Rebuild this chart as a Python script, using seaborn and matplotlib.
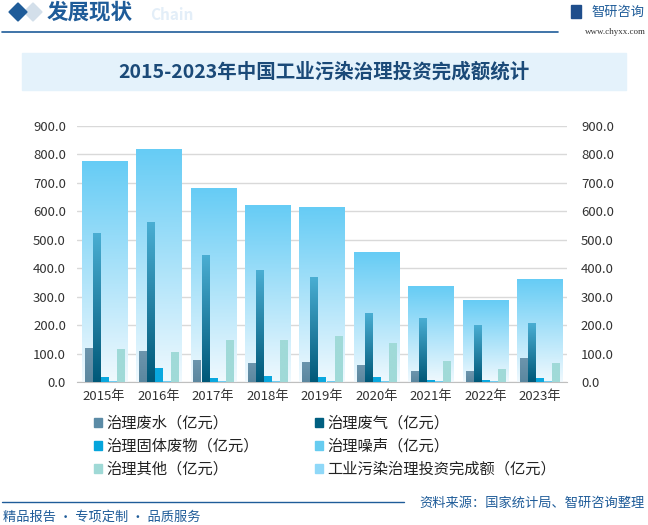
import numpy as np
import pandas as pd
import matplotlib
matplotlib.use("Agg")
import matplotlib.pyplot as plt
from matplotlib.patches import Patch, Polygon, Rectangle
from matplotlib.colors import to_rgb
import seaborn as sb

#---------------------- datos ------------------------
years = ["2015年", "2016年", "2017年", "2018年", "2019年", "2020年", "2021年", "2022年", "2023年"]
total = [773.7, 819.0, 681.5, 621.3, 615.2, 454.3, 335.2, 285.0, 362.0]
water = [118.4, 108.2, 76.4, 64.0, 69.9, 57.4, 36.0, 36.0, 82.0]
gas = [521.8, 561.5, 446.3, 393.1, 367.7, 242.4, 222.0, 198.0, 205.0]
solid = [16.1, 46.7, 12.7, 18.4, 17.0, 17.3, 5.0, 5.0, 12.0]
noise = [3.0, 3.0, 3.0, 3.0, 3.0, 3.0, 3.0, 3.0, 3.0]
other = [114.5, 102.0, 144.9, 144.3, 159.2, 134.0, 71.0, 43.0, 64.0]

series_names = ["治理废水（亿元）", "治理废气（亿元）", "治理固体废物（亿元）", "治理噪声（亿元）", "治理其他（亿元）"]
total_name = "工业污染治理投资完成额（亿元）"
yticks = [0, 100, 200, 300, 400, 500, 600, 700, 800, 900]

# colores (arriba, abajo) de cada serie
grad = {
    series_names[0]: ("#6C95AD", "#5B879F"),
    series_names[1]: ("#4AAED3", "#005878"),
    series_names[2]: ("#0AA8DF", "#0AA8DF"),
    series_names[3]: ("#6FCDF2", "#6FCDF2"),
    series_names[4]: ("#A0DAD8", "#A0DAD8"),
}
total_grad = ("#66CCF5", "#F0F9FE")
marker_cols = ["#5B8BA6", "#005F80", "#05A5DC", "#66CCF0", "#9FD9D6"]

df_tot = pd.DataFrame({"year": years, "value": total})
df_long = pd.DataFrame({
    "year": years * 5,
    "serie": sum([[n] * len(years) for n in series_names], []),
    "value": water + gas + solid + noise + other,
})

sb.set_style("white")
plt.rcParams["font.family"] = ["Noto Sans CJK SC", "DejaVu Sans"]

W, H = 648, 525
fig = plt.figure(figsize=(W / 100, H / 100), dpi=100)
def fx(x): return x / W
def fy(y): return 1 - y / H

ax = fig.add_axes([fx(77), fy(382), fx(567) - fx(77), fy(126) - fy(382)])

sb.barplot(data=df_tot, x="year", y="value", order=years, width=0.83, ax=ax, zorder=2)
n_tot = len(ax.patches)
sb.barplot(data=df_long, x="year", y="value", hue="serie", order=years, hue_order=series_names,
           width=0.74, gap=0.12, legend=False, ax=ax, zorder=3)

def gradient_fill(patch, top, bottom, z):
    x0, w, h = patch.get_x(), patch.get_width(), patch.get_height()
    t, b = np.array(to_rgb(top)), np.array(to_rgb(bottom))
    f = np.linspace(0, 1, 256)[:, None, None]
    img = t * (1 - f) + b * f
    ax.imshow(img, extent=[x0, x0 + w, 0, h], aspect="auto", zorder=z, interpolation="bilinear")
    patch.set_visible(False)

patches = list(ax.patches)
for p in patches[:n_tot]:
    gradient_fill(p, total_grad[0], total_grad[1], 2)
for i, p in enumerate(patches[n_tot:]):
    name = series_names[i // len(years)]
    gradient_fill(p, grad[name][0], grad[name][1], 3)

ax.set_xlim(-0.5, len(years) - 0.5)
ax.set_ylim(0, 900)
ax.set_yticks(yticks)
ax.set_yticklabels([f"{v:.1f}" for v in yticks], fontsize=9.5, color="#333333")
ax.tick_params(axis="x", labelsize=9.5, colors="#333333", length=0, pad=6)
ax.tick_params(axis="y", length=0, pad=8)
ax.set_xlabel("")
ax.set_ylabel("")
ax.grid(axis="y", color="#D9D9D9", linewidth=1, zorder=0)
ax.set_axisbelow(True)
for s in ["top", "right", "left"]:
    ax.spines[s].set_visible(False)
ax.spines["bottom"].set_color("#BFBFBF")

ax2 = ax.twinx()
ax2.set_ylim(0, 900)
ax2.set_yticks(yticks)
ax2.set_yticklabels([f"{v:.1f}" for v in yticks], fontsize=9.5, color="#333333")
ax2.tick_params(axis="y", length=0, pad=10)
for s in ax2.spines.values():
    s.set_visible(False)

# leyenda: filas (废水, 废气), (固体, 噪声), (其他, 总额)
handles = [Patch(color=c) for c in marker_cols] + [Patch(color="#8FD8F8")]
labels = series_names + [total_name]
order = [0, 2, 4, 1, 3, 5]
fig.legend([handles[i] for i in order], [labels[i] for i in order], ncol=2,
           loc="upper left", bbox_to_anchor=(fx(80), fy(401)), frameon=False,
           fontsize=11, handlelength=0.55, handleheight=0.55, handletextpad=0.25,
           columnspacing=3.7, labelspacing=0.4, labelcolor="#222222")

# cabecera
blue = "#1F5C99"
fig.patches.append(Polygon([[fx(33), fy(3)], [fx(42), fy(12)], [fx(33), fy(21)], [fx(24), fy(12)]],
                           closed=True, transform=fig.transFigure, color="#D3DFEA", zorder=1))
fig.patches.append(Polygon([[fx(18), fy(3)], [fx(27), fy(12)], [fx(18), fy(21)], [fx(9), fy(12)]],
                           closed=True, transform=fig.transFigure, color=blue, zorder=2))
fig.text(fx(150), fy(15), "Chain", fontsize=11, fontweight="bold", color="#E3EEF8", va="center")
fig.text(fx(47), fy(12), "发展现状", fontsize=15.5, fontweight="bold", color=blue, va="center")
fig.add_artist(plt.Line2D([fx(2), fx(558)], [fy(32), fy(32)], transform=fig.transFigure, color=blue, lw=1.2))
fig.text(fx(591), fy(12), "智研咨询", fontsize=9.5, color=blue, va="center")
fig.patches.append(Rectangle((fx(571), fy(18)), fx(10), fy(5) - fy(18), transform=fig.transFigure,
                             color="#1F4E8C", zorder=2))
fig.text(fx(646), fy(32), "www.chyxx.com", fontsize=6.5, color="#333333", va="center", ha="right",
         family="Liberation Serif")

# titulo
fig.patches.append(Rectangle((fx(22), fy(90)), fx(626) - fx(22), fy(53) - fy(90), transform=fig.transFigure,
                             color="#E4F2FB", zorder=0))
fig.text(0.5, fy(72), "2015-2023年中国工业污染治理投资完成额统计", fontsize=14, fontweight="bold",
         color="#1B4A78", ha="center", va="center")

# pie
fig.add_artist(plt.Line2D([fx(2), fx(404)], [fy(502), fy(502)], transform=fig.transFigure, color=blue, lw=1))
fig.text(fx(3), fy(517), "精品报告 · 专项定制 · 品质服务", fontsize=9.5, color=blue, va="center")
fig.text(fx(645), fy(503), "资料来源：国家统计局、智研咨询整理", fontsize=9.5, color=blue, va="center", ha="right")

fig.savefig("out.png", dpi=100, facecolor="white")
